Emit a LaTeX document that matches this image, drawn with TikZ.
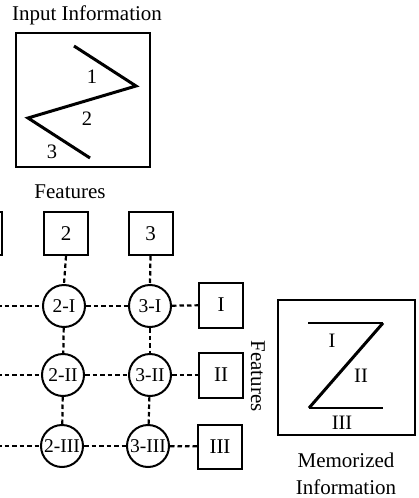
\documentclass[tikz,border=0pt]{standalone}
\usepackage{fontspec}
\setmainfont{Liberation Serif}
\begin{document}
\begin{tikzpicture}[x=1pt,y=-1pt,
  box/.style={draw, line width=2pt, minimum width=44pt, minimum height=43pt, inner sep=0pt, font=\fontsize{21}{24}\selectfont},
  circ/.style={draw, circle, line width=2pt, minimum size=42pt, inner sep=0pt, font=\fontsize{19.5}{23}\selectfont},
  dsh/.style={line width=2.2pt, dash pattern=on 4.5pt off 3pt},
  lbl/.style={font=\fontsize{21}{25}\selectfont, inner sep=0pt},
  sml/.style={font=\fontsize{20.5}{24}\selectfont, inner sep=0pt},
  frame/.style={draw, line width=2pt, inner sep=0pt}]
\useasboundingbox (0,0) rectangle (419,498);

% input information
\node[lbl] (intitle) at (87,15) {Input Information};
\node[frame, minimum width=134pt, minimum height=134pt] (inbox) at (83,100) {};
\coordinate (z1) at (74,46);
\coordinate (z2) at (136,86);
\coordinate (z3) at (28,118);
\coordinate (z4) at (90,158);
\draw[line width=3pt] (z1) -- (z2) -- (z3) -- (z4);
\node[sml] (n1) at (92,77) {1};
\node[sml] (n2) at (87,119) {2};
\node[sml] (n3) at (52,152) {3};
\node[lbl] (feat) at (70,192) {Features};

% feature boxes (top)
\node[box] (b1) at (-20.5,233.5) {};
\node[box] (b2) at (66,233.5) {\raisebox{-6pt}{2}};
\node[box] (b3) at (150.5,233.5) {\raisebox{-6pt}{3}};

% circles
\node[circ] (c2a) at (64,306) {\makebox[0pt]{2-I}};
\node[circ] (c3a) at (150,306) {\makebox[0pt]{3-I}};
\node[circ] (c2b) at (63,375) {\makebox[0pt]{2-II}};
\node[circ] (c3b) at (150,375) {\makebox[0pt]{3-II}};
\node[circ] (c2c) at (62,446) {\makebox[0pt]{2-III}};
\node[circ] (c3c) at (148,446) {\makebox[0pt]{3-III}};

% feature boxes (right)
\node[box, minimum height=45pt] (rI) at (221,305) {I};
\node[box, minimum height=45pt] (rII) at (221,375) {II};
\node[box, minimum height=44pt] (rIII) at (220,446.5) {III};

% free left ends
\coordinate (la) at (-3,306);
\coordinate (lb) at (-3,375);
\coordinate (lc) at (-3,446);

% dashed connectors
\draw[dsh] (b2.south) -- (c2a.north);
\draw[dsh] (c2a) -- (c2b);
\draw[dsh] (c2b) -- (c2c);
\draw[dsh] (b3.south) -- (c3a.north);
\draw[dsh] (c3a) -- (c3b);
\draw[dsh] (c3b) -- (c3c);
\draw[dsh] (la) -- (c2a);
\draw[dsh] (c2a) -- (c3a);
\draw[dsh] (c3a) -- (rI);
\draw[dsh] (lb) -- (c2b);
\draw[dsh] (c2b) -- (c3b);
\draw[dsh] (c3b) -- (rII);
\draw[dsh] (lc) -- (c2c);
\draw[dsh] (c2c) -- (c3c);
\draw[dsh] (c3c) -- (rIII);

\node[lbl, rotate=-90] (feat2) at (258,376) {Features};

% memorized information
\node[frame, minimum width=137pt, minimum height=135pt] (mbox) at (346.5,367.5) {};
\coordinate (m1) at (308,323);
\coordinate (m2) at (383,323);
\coordinate (m3) at (309,408);
\coordinate (m4) at (383,408);
\draw[line width=1.6pt] (m1) -- (m2);
\draw[line width=3pt] (m2) -- (m3);
\draw[line width=2.2pt] (m3) -- (m4);
\node[sml] (mI) at (332,341) {I};
\node[sml] (mII) at (361,376) {II};
\node[sml] (mIII) at (342,423) {III};
\node[lbl] (mem1) at (346,460) {Memorized};
\node[lbl] (mem2) at (346,487) {Information};
\end{tikzpicture}
\end{document}
